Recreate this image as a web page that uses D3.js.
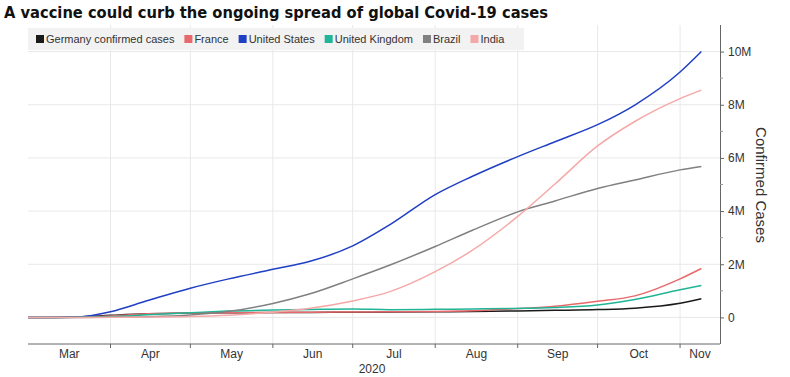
<!DOCTYPE html>
<html lang="en">
<head>
<meta charset="UTF-8">
<title>Covid-19 confirmed cases</title>
<script src="https://d3js.org/d3.v7.min.js"></script>
<style>
  body { margin: 0; background: #fff; }
  text { font-family: "Liberation Sans", Arial, sans-serif; }
</style>
</head>
<body>
<div id="chart"></div>
<script>
// cumulative confirmed cases, millions
const dates = ["2020-03-01","2020-03-10","2020-03-20","2020-04-01","2020-04-15","2020-05-01","2020-05-15",
  "2020-06-01","2020-06-15","2020-07-01","2020-07-15","2020-08-01","2020-08-15","2020-09-01",
  "2020-09-15","2020-10-01","2020-10-15","2020-11-01","2020-11-09"];
const germany = [0.0001,0.001,0.02,0.077,0.134,0.164,0.175,0.183,0.188,0.196,0.201,0.211,0.225,0.245,0.266,0.294,0.348,0.532,0.70];
const france  = [0.0001,0.002,0.012,0.057,0.134,0.168,0.180,0.189,0.194,0.203,0.211,0.225,0.253,0.331,0.418,0.606,0.81,1.45,1.84];
const usa     = [0,0.001,0.019,0.215,0.636,1.10,1.44,1.81,2.11,2.69,3.49,4.62,5.31,6.05,6.61,7.25,7.99,9.23,10.0];
const uk      = [0,0.0004,0.004,0.030,0.099,0.178,0.237,0.277,0.297,0.314,0.293,0.305,0.318,0.338,0.375,0.471,0.677,1.04,1.20];
const brazil  = [0,0,0.001,0.007,0.028,0.092,0.22,0.526,0.89,1.45,1.97,2.67,3.28,3.97,4.38,4.85,5.17,5.55,5.68];
const india   = [0,0,0.0002,0.0019,0.012,0.037,0.085,0.198,0.343,0.62,0.97,1.72,2.53,3.8,5.02,6.45,7.37,8.23,8.55];

const seriesNames = ["Germany confirmed cases","France","United States","United Kingdom","Brazil","India"];
const seriesColors = ["#1a1a1a","#e8696b","#1f3fc4","#1fb596","#808080","#f4a9a8"];
const seriesValues = [germany, france, usa, uk, brazil, india];

const monthStarts = ["2020-04-01","2020-05-01","2020-06-01","2020-07-01","2020-08-01","2020-09-01","2020-10-01","2020-11-01"];
const monthLabels = ["Mar","Apr","May","Jun","Jul","Aug","Sep","Oct","Nov"];
const yTicks = [0,2,4,6,8,10];

const width = 790, height = 377;
const parse = d3.utcParse("%Y-%m-%d");
const x0 = parse("2020-03-01"), x1 = parse("2020-11-16");

const svg = d3.select("#chart").append("svg")
  .attr("width", width).attr("height", height);

const x = d3.scaleUtc().domain([x0, x1]).range([28, 720]);
const y = d3.scaleLinear().domain([-1, 11]).range([344, 25]);

// gridlines
svg.append("g").selectAll("line").data(yTicks).join("line")
  .attr("x1", 28).attr("x2", 720)
  .attr("y1", d => y(d)).attr("y2", d => y(d))
  .attr("stroke", "#e8e8e8");
svg.append("g").selectAll("line").data(monthStarts).join("line")
  .attr("x1", d => x(parse(d))).attr("x2", d => x(parse(d)))
  .attr("y1", 25).attr("y2", 344)
  .attr("stroke", "#e8e8e8");

// title
svg.append("text")
  .attr("x", 4).attr("y", 18)
  .attr("font-size", 16).attr("font-weight", "bold")
  .style("font-family", "'DejaVu Sans', sans-serif")
  .attr("textLength", 544).attr("lengthAdjust", "spacingAndGlyphs")
  .attr("fill", "#111")
  .text("A vaccine could curb the ongoing spread of global Covid-19 cases");

// legend
svg.append("rect").attr("x", 28).attr("y", 28).attr("width", 496).attr("height", 22).attr("fill", "#f2f2f2");
let lx = 36;
seriesNames.forEach((name, i) => {
  svg.append("rect").attr("x", lx).attr("y", 35).attr("width", 8).attr("height", 8).attr("fill", seriesColors[i]);
  const t = svg.append("text").attr("x", lx + 10).attr("y", 43)
    .attr("font-size", 11).attr("fill", "#333").text(name);
  lx += 10 + t.node().getComputedTextLength() + 10;
});

// lines
const line = d3.line()
  .x((d, i) => x(parse(dates[i])))
  .y(d => y(d))
  .curve(d3.curveMonotoneX);

seriesValues.forEach((vals, i) => {
  svg.append("path")
    .attr("d", line(vals))
    .attr("fill", "none")
    .attr("stroke", seriesColors[i])
    .attr("stroke-width", 1.5);
});

// bottom axis
svg.append("line").attr("x1", 28).attr("x2", 720).attr("y1", 344).attr("y2", 344).attr("stroke", "#666");
svg.append("g").selectAll("line").data(monthStarts).join("line")
  .attr("x1", d => x(parse(d))).attr("x2", d => x(parse(d)))
  .attr("y1", 344).attr("y2", 348).attr("stroke", "#666");

const bounds = [x0, ...monthStarts.map(parse), x1];
svg.append("g").selectAll("text").data(monthLabels).join("text")
  .attr("x", (d, i) => (x(bounds[i]) + x(bounds[i + 1])) / 2)
  .attr("y", 358).attr("text-anchor", "middle")
  .attr("font-size", 12).attr("fill", "#333")
  .text(d => d);
svg.append("text").attr("x", 372).attr("y", 373).attr("text-anchor", "middle")
  .attr("font-size", 12).attr("fill", "#333").text("2020");

// right axis
const yAxis = d3.axisRight(y)
  .tickValues(yTicks)
  .tickSize(4)
  .tickFormat(d => d === 0 ? "0" : d + "M");
const ya = svg.append("g").attr("transform", "translate(720,0)").call(yAxis);
ya.select(".domain").attr("stroke", "#666").attr("d", "M0.5,25V344");
ya.selectAll(".tick line").attr("stroke", "#666");
ya.selectAll(".tick text").attr("font-size", 12).attr("fill", "#333")
  .style("font-family", "'Liberation Sans', Arial, sans-serif").attr("x", 8);
svg.append("g").selectAll("line").data([1,3,5,7,9]).join("line")
  .attr("x1", 720).attr("x2", 723)
  .attr("y1", d => y(d)).attr("y2", d => y(d))
  .attr("stroke", "#999");

svg.append("text")
  .attr("transform", "translate(756,185) rotate(90)")
  .attr("text-anchor", "middle")
  .attr("font-size", 15).attr("fill", "#333")
  .text("Confirmed Cases");
</script>
</body>
</html>
